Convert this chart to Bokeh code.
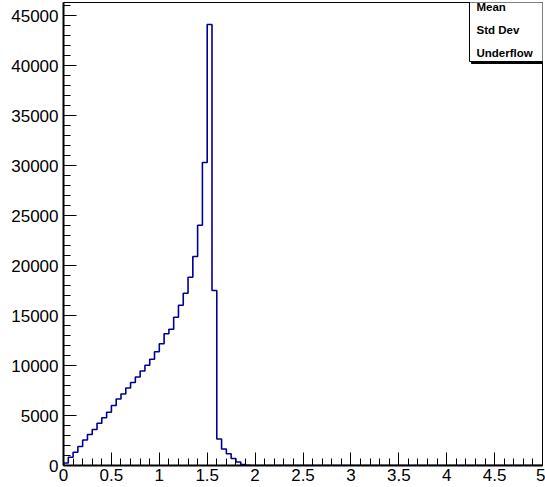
import numpy as np
from bokeh.plotting import figure
from bokeh.models import FixedTicker, BoxAnnotation, Label, Range1d
from bokeh.embed import file_html
from bokeh.resources import INLINE

# ---- data ----
x_min, x_max, n_bins = 0.0, 5.0, 100
counts = [250, 830, 1330, 1900, 2550, 3100, 3600, 4230, 4770, 5330,
          6000, 6650, 7150, 7750, 8300, 8850, 9450, 10030, 10630, 11370,
          12170, 13170, 13630, 14830, 16030, 17230, 18830, 20900, 24030, 30300,
          44100, 17500, 2650, 1650, 1170, 700, 350, 100, 30] + [0] * 61
x_ticks = [0, 0.5, 1, 1.5, 2, 2.5, 3, 3.5, 4, 4.5, 5]
x_tick_labels = ["0", "0.5", "1", "1.5", "2", "2.5", "3", "3.5", "4", "4.5", "5"]
y_ticks = [0, 5000, 10000, 15000, 20000, 25000, 30000, 35000, 40000, 45000]
y_tick_labels = ["0", "5000", "10000", "15000", "20000", "25000", "30000", "35000", "40000", "45000"]
stats_names = ["Mean", "Std Dev", "Underflow"]

edges = np.linspace(x_min, x_max, n_bins + 1)
vals = np.array(counts, dtype=float)
y_top = vals.max() * 1.05

W, H = 545, 487
L, R, T, B = 63, 3, 2, 22

p = figure(width=W, height=H, x_range=Range1d(x_min, x_max), y_range=Range1d(0, y_top),
           output_backend="svg", toolbar_location=None,
           min_border_left=L, min_border_right=R, min_border_top=T, min_border_bottom=B)
p.xgrid.visible = False
p.ygrid.visible = False
p.outline_line_color = "black"
p.outline_line_width = 1
p.background_fill_color = "white"
p.border_fill_color = "white"

font = "Liberation Sans"
for ax in (p.xaxis[0], p.yaxis[0]):
    ax.axis_line_color = "black"
    ax.axis_line_width = 2
    ax.major_tick_in = 13
    ax.major_tick_out = 0
    ax.minor_tick_in = 7
    ax.minor_tick_out = 0
    ax.major_tick_line_color = "black"
    ax.minor_tick_line_color = "black"
    ax.major_label_text_font = font
    ax.major_label_text_font_size = "17px"
    ax.major_label_text_color = "black"

p.xaxis.ticker = FixedTicker(ticks=x_ticks, minor_ticks=list(np.round(np.arange(0, 5.001, 0.1), 2)))
p.xaxis.major_label_overrides = {t: s for t, s in zip(x_ticks, x_tick_labels)}
p.xaxis.major_label_standoff = 3
p.yaxis.ticker = FixedTicker(ticks=y_ticks, minor_ticks=list(range(0, 46001, 1000)))
p.yaxis.major_label_overrides = {t: s for t, s in zip(y_ticks, y_tick_labels)}
p.yaxis.major_label_standoff = 5

# histogram outline
xs = np.repeat(edges, 2)
ys = np.concatenate([[0.0], np.repeat(vals, 2), [0.0]])
p.line(xs, ys, line_color="#000099", line_width=1.6)

# stats box (screen units relative to frame, y from bottom)
frame_h = H - T - B
def sy(canvas_y):
    return frame_h + T - canvas_y
def sx(canvas_x):
    return canvas_x - L

shadow = BoxAnnotation(left=sx(471), right=sx(560), top=sy(1), bottom=sy(63),
                       left_units="screen", right_units="screen", top_units="screen", bottom_units="screen",
                       fill_color="black", fill_alpha=1, line_color="black", line_alpha=1, level="overlay")
box = BoxAnnotation(left=sx(469), right=sx(558), top=sy(-2), bottom=sy(61),
                    left_units="screen", right_units="screen", top_units="screen", bottom_units="screen",
                    fill_color="white", fill_alpha=1, line_color="black", line_width=1, line_alpha=1,
                    level="overlay")
p.add_layout(shadow)
p.add_layout(box)
for name, cy in zip(stats_names, [6, 29, 52]):
    p.add_layout(Label(x=sx(476), y=sy(cy), x_units="screen", y_units="screen", text=name,
                       text_font=font, text_font_style="bold", text_font_size="11.5px",
                       text_baseline="middle", text_align="left", text_color="black", level="overlay"))

open("out.html", "w").write(file_html(p, INLINE))
